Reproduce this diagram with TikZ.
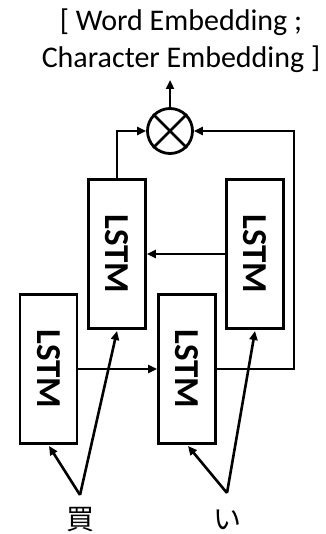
\documentclass[tikz,border=0pt]{standalone}
\usepackage{fontspec}
\setmainfont{Carlito}
\newfontfamily\jpfont{Noto Sans CJK JP}
\usetikzlibrary{arrows.meta}
\begin{document}
\begin{tikzpicture}[x=1pt,y=-1pt,
  lstmbox/.style={draw,line width=2.8pt,minimum width=57pt,minimum height=149pt,inner sep=0pt},
  lstmtext/.style={font=\fontsize{35}{35}\selectfont\bfseries,rotate=-90},
  conn/.style={line width=2.6pt,-{Triangle[length=9pt,width=8pt]}},
  plain/.style={line width=2.6pt}]
\useasboundingbox (0,0) rectangle (325,534);
\node[font=\fontsize{30}{37}\selectfont,align=center] (title) at (181,41) {[ Word Embedding ;\\Character Embedding ]};
\node[lstmbox] (ul) at (117,254) {};
\node[lstmtext] at (ul) {LSTM};
\node[lstmbox] (ur) at (255,254) {};
\node[lstmtext] at (ur) {LSTM};
\node[lstmbox] (ll) at (48.5,369) {};
\node[lstmtext] at (ll) {LSTM};
\node[lstmbox] (lm) at (187,369) {};
\node[lstmtext] at (lm) {LSTM};
\node[draw,circle,line width=2.8pt,minimum size=45pt,inner sep=0pt] (c) at (170,131) {};
\draw[line width=2.8pt] (c.north west) -- (c.south east) (c.north east) -- (c.south west);
\coordinate (top) at (170,80);
\draw[conn] (c.north) -- (top);
\draw[conn] (ul.north) |- (c.west);
\coordinate (rc) at (294,369);
\draw[conn] (lm.east) -- (rc) |- (c.east);
\draw[conn] (ur.west) -- (ul.east);
\draw[conn] (ll.east) -- (lm.west);
\node[font=\fontsize{28}{28}\selectfont\jpfont] (k1) at (80,520) {買};
\node[font=\fontsize{28}{28}\selectfont\jpfont] (k2) at (227,520) {い};
\coordinate (a1) at (80,495);
\coordinate (a2) at (227,493);
\draw[conn] (a1) -- (49,446);
\draw[conn] (a1) -- (117,331);
\draw[conn] (a2) -- (188,446);
\draw[conn] (a2) -- (255,331);
\end{tikzpicture}
\end{document}
